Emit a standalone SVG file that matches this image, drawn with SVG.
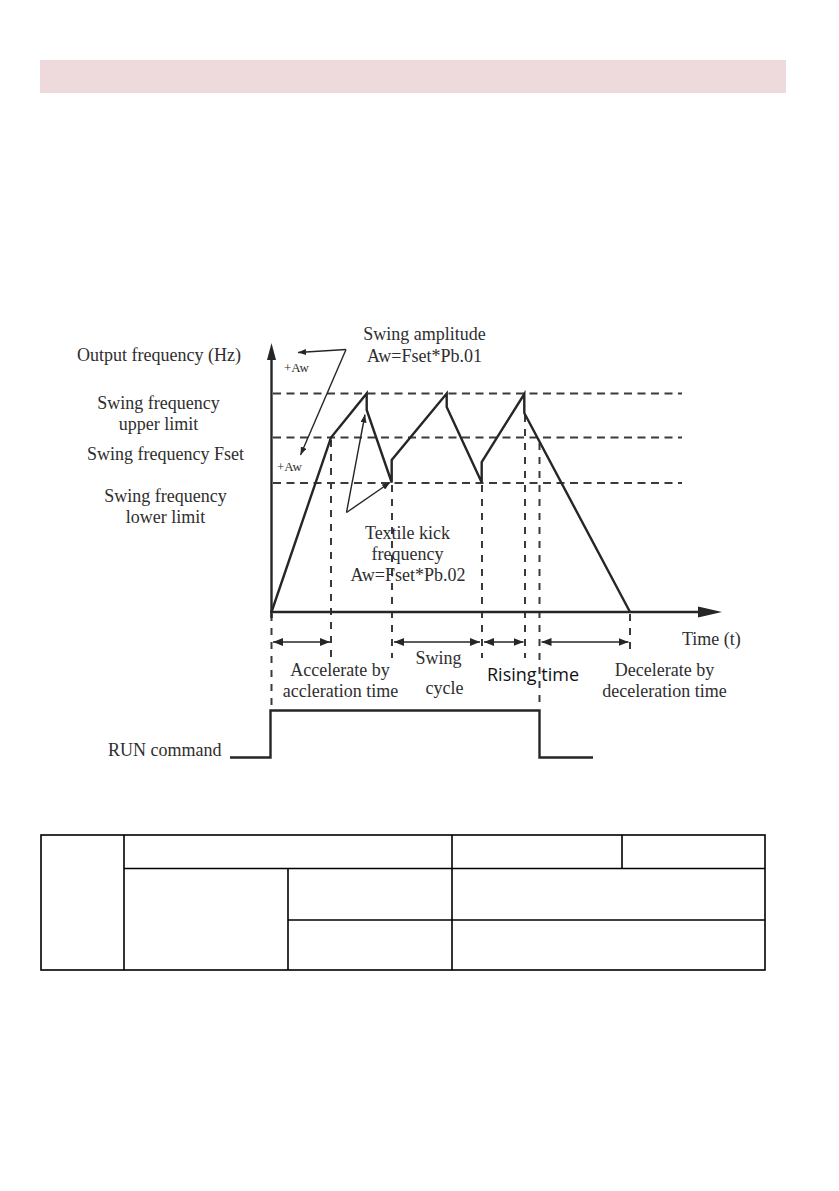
<svg xmlns="http://www.w3.org/2000/svg" width="839" height="1191" viewBox="0 0 839 1191">
<defs>
<style>
.t{font-family:"Liberation Serif","Times New Roman",serif;font-size:18px;fill:#2e2e2e}
.ts{font-family:"Liberation Serif","Times New Roman",serif;font-size:13px;fill:#2e2e2e}
.sans{font-family:"Open Sans","Liberation Sans",sans-serif;font-size:18px;fill:#111}
.m{text-anchor:middle}
.ax{stroke:#262626;stroke-width:2.4;fill:none}
.wave{stroke:#262626;stroke-width:2.4;fill:none;stroke-linejoin:miter}
.hd{stroke:#3a3a3a;stroke-width:2.2;stroke-dasharray:8 5.5;fill:none}
.vd{stroke:#3a3a3a;stroke-width:2;stroke-dasharray:7 7;fill:none}
.thin{stroke:#262626;stroke-width:1.4;fill:none}
.dbl{stroke:#262626;stroke-width:1.6;fill:none}
.tbl{stroke:#000;stroke-width:1.6;fill:none}
</style>
<marker id="ah" viewBox="0 0 10 8" refX="10" refY="4" markerWidth="10" markerHeight="8" markerUnits="userSpaceOnUse" orient="auto-start-reverse">
<path d="M0,0 L10,4 L0,8 Z" fill="#262626"/>
</marker>
<marker id="ahs" viewBox="0 0 8 6" refX="8" refY="3" markerWidth="8" markerHeight="6" markerUnits="userSpaceOnUse" orient="auto">
<path d="M0,0 L8,3 L0,6 Z" fill="#262626"/>
</marker>
</defs>
<rect width="839" height="1191" fill="#ffffff"/>
<rect id="header-bar" x="40" y="60" width="746" height="33" fill="#eed9dc"/>

<g id="grid-lines">
<line class="hd" x1="273" y1="393.5" x2="682" y2="393.5"/>
<line class="hd" x1="273" y1="437.5" x2="682" y2="437.5"/>
<line class="hd" x1="273" y1="483" x2="682" y2="483"/>
<line class="vd" x1="331" y1="440" x2="331" y2="658"/>
<line class="vd" x1="392" y1="485" x2="392" y2="658"/>
<line class="vd" x1="482" y1="485" x2="482" y2="658"/>
<line class="vd" x1="525" y1="415" x2="525" y2="658"/>
<line class="vd" x1="539.5" y1="443" x2="539.5" y2="709"/>
<line class="vd" x1="630" y1="614" x2="630" y2="650"/>
<line class="vd" x1="271.5" y1="614" x2="271.5" y2="709"/>
</g>

<g id="axes">
<line class="ax" x1="271.5" y1="618" x2="271.5" y2="358"/>
<path d="M271.5,343 L276,360 L267,360 Z" fill="#262626"/>
<line class="ax" x1="270" y1="612" x2="700" y2="612"/>
<path d="M722,612 L698,606.5 L698,617.5 Z" fill="#262626"/>
</g>

<g id="waveform">
<polyline class="wave" points="271.5,612 331,437.5 366.7,393.5 366.7,410 391.7,482.5 391.7,460 446.7,393.5 446.7,407 481.7,482.5 481.7,462 524.3,394 524.3,413 630,612"/>
</g>

<g id="run-command-signal">
<polyline class="ax" points="230,757.5 270.5,757.5 270.5,710.5 539.5,710.5 539.5,757.5 593,757.5"/>
</g>

<g id="connectors">
<line class="thin" x1="346" y1="349.5" x2="298" y2="352.5" marker-end="url(#ahs)"/>
<line class="thin" x1="346" y1="349.5" x2="300.5" y2="455" marker-end="url(#ahs)"/>
<line class="thin" x1="346.5" y1="512.5" x2="365" y2="414.5" marker-end="url(#ahs)"/>
<line class="thin" x1="346.5" y1="512.5" x2="390" y2="482.5" marker-end="url(#ahs)"/>
<line class="dbl" x1="273" y1="642" x2="330" y2="642" marker-start="url(#ah)" marker-end="url(#ah)"/>
<line class="dbl" x1="394" y1="642" x2="480" y2="642" marker-start="url(#ah)" marker-end="url(#ah)"/>
<line class="dbl" x1="484" y1="642" x2="523.5" y2="642" marker-start="url(#ah)" marker-end="url(#ah)"/>
<line class="dbl" x1="541.5" y1="642" x2="628.5" y2="642" marker-start="url(#ah)" marker-end="url(#ah)"/>
</g>

<g id="label-output-frequency"><text class="t" x="77" y="361">Output frequency (Hz)</text></g>
<g id="label-aw-top"><text class="ts" x="284" y="372">+Aw</text></g>
<g id="label-aw-bottom"><text class="ts" x="277" y="471">+Aw</text></g>
<g id="label-upper-limit"><text class="t m" x="158.5" y="409">Swing frequency</text><text class="t m" x="158.5" y="430">upper limit</text></g>
<g id="label-fset"><text class="t" x="87" y="460">Swing frequency Fset</text></g>
<g id="label-lower-limit"><text class="t m" x="165.5" y="502">Swing frequency</text><text class="t m" x="165.5" y="523">lower limit</text></g>
<g id="label-swing-amplitude"><text class="t m" x="424.5" y="340">Swing amplitude</text><text class="t m" x="424.5" y="362">Aw=Fset*Pb.01</text></g>
<g id="label-textile-kick"><text class="t m" x="407.5" y="539">Textile kick</text><text class="t m" x="407.5" y="560">frequency</text><text class="t m" x="408" y="581">Aw=Fset*Pb.02</text></g>
<g id="label-time"><text class="t" x="682" y="645">Time (t)</text></g>
<g id="label-accelerate"><text class="t m" x="340" y="676">Accelerate by</text><text class="t m" x="340.5" y="697">accleration time</text></g>
<g id="label-swing-cycle"><text class="t m" x="438.5" y="664">Swing</text><text class="t m" x="444.5" y="694">cycle</text></g>
<g id="label-rising-time"><text class="sans" x="487" y="681">Rising time</text></g>
<g id="label-decelerate"><text class="t m" x="664.5" y="676">Decelerate by</text><text class="t m" x="664.5" y="697">deceleration time</text></g>
<g id="label-run-command"><text class="t" x="108" y="756">RUN command</text></g>

<g id="table">
<rect class="tbl" x="41" y="835" width="724" height="135"/>
<line class="tbl" x1="124" y1="835" x2="124" y2="970"/>
<line class="tbl" x1="452" y1="835" x2="452" y2="970"/>
<line class="tbl" x1="622" y1="835" x2="622" y2="868.5"/>
<line class="tbl" x1="124" y1="868.5" x2="765" y2="868.5"/>
<line class="tbl" x1="288" y1="868.5" x2="288" y2="970"/>
<line class="tbl" x1="288" y1="920" x2="765" y2="920"/>
</g>
</svg>
